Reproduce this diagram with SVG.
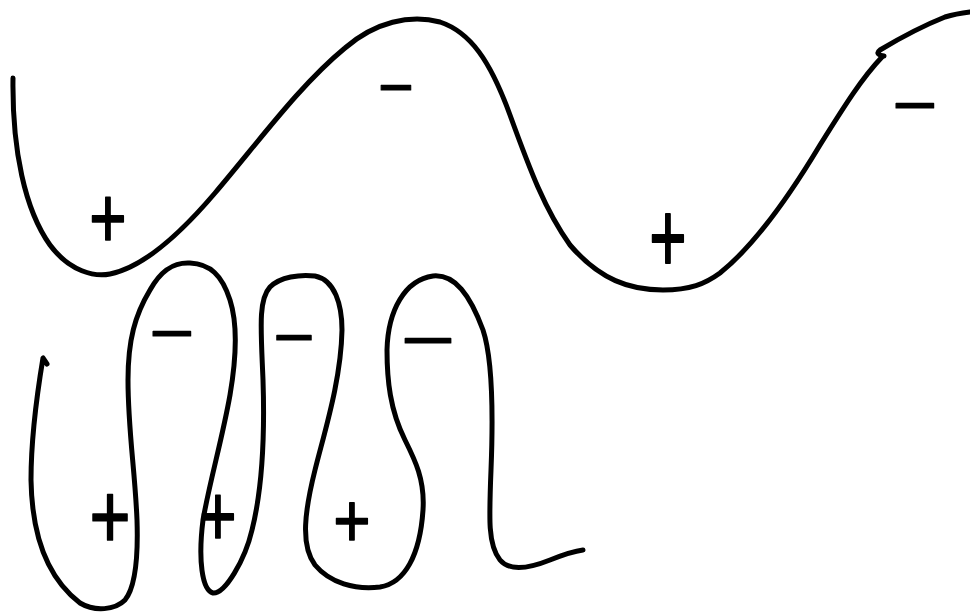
<svg xmlns="http://www.w3.org/2000/svg" width="970" height="613" viewBox="0 0 970 613">
<style>
.c{fill:none;stroke:#000;stroke-width:5;stroke-linecap:round;stroke-linejoin:round}
.m{font-family:"Liberation Sans",Arial,sans-serif;font-size:64px;text-anchor:middle;fill:#000;stroke:#000;stroke-width:1.2;stroke-linejoin:round}
</style>
<rect width="970" height="613" fill="#fff"/>
<g id="curves">
<path class="c" d="M13,78 C12,150 25,210 50,245 C70,272 95,277 110,274 C140,268 175,240 215,193 C260,140 300,85 345,48 C375,22 410,14 440,22 C470,32 490,60 510,115 C530,170 545,210 570,245 C600,280 630,290 663,290 C690,290 705,284 720,273 C755,245 790,195 820,145 C845,105 862,78 882,57"/>
<path class="c" d="M884,56 C878,55 876,53 880,50 C900,38 925,25 945,17 C955,14 962,13 970,12"/>
<path class="c" d="M47,364 L43,358 C36,400 31,440 31,480 C32,540 50,580 80,603 C95,612 115,610 125,600 C137,585 138,550 137,520 C135,470 128,430 128,380 C128,340 135,315 150,290 C160,272 172,262 190,263 C210,264 222,275 230,300 C238,325 236,360 230,395 C222,440 210,480 203,520 C198,560 202,590 213,593 C225,594 245,560 252,530 C262,490 265,440 263,380 C261,330 258,300 270,287 C280,277 300,274 315,276 C335,280 342,305 342,330 C341,380 325,430 315,470 C305,510 300,545 315,565 C330,583 355,590 380,587 C405,583 420,555 423,510 C425,480 415,460 405,440 C390,410 387,380 387,350 C388,310 405,280 433,276 C455,274 470,295 483,330 C493,360 493,420 491,470 C489,520 488,545 500,560 C510,572 530,568 550,560 C565,554 575,551 583,550"/>
</g>
<g id="signs">
<text class="m" transform="translate(108,218) scale(1,1.35)" y="22.5">+</text>
<text class="m" transform="translate(668,237) scale(1,1.55)" y="22.5">+</text>
<text class="m" transform="translate(110,515) scale(1.1,1.45)" y="22.5">+</text>
<text class="m" transform="translate(218,516) scale(1,1.35)" y="22.5">+</text>
<text class="m" transform="translate(352,520) scale(1,1.2)" y="22.5">+</text>
<text class="m" transform="translate(396,88) scale(0.95,1)" y="21">−</text>
<text class="m" transform="translate(915,106) scale(1.2,1)" y="21">−</text>
<text class="m" transform="translate(172,334) scale(1.2,1)" y="21">−</text>
<text class="m" transform="translate(294,338) scale(1.1,1)" y="21">−</text>
<text class="m" transform="translate(428,341) scale(1.45,1)" y="21">−</text>
</g>
</svg>
